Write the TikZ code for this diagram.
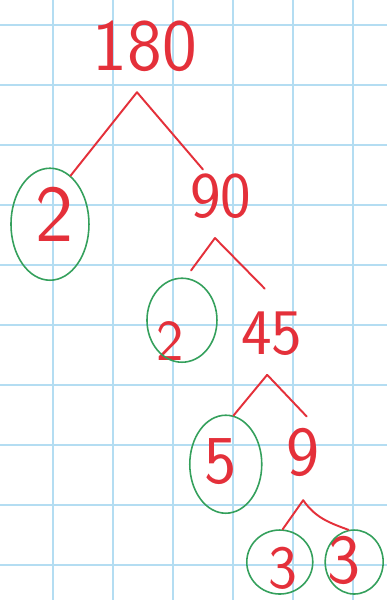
\documentclass[tikz,border=0pt]{standalone}
\usetikzlibrary{shapes.geometric}
\definecolor{gridblue}{RGB}{180,221,242}
\definecolor{penred}{RGB}{228,48,58}
\definecolor{ringgreen}{RGB}{52,160,92}
\tikzset{
  digit/.style={font=\sffamily\fontsize{#1}{#1}\selectfont, text=penred, inner sep=0pt},
  branch/.style={penred, line width=1.1pt, line cap=round},
  ring/.style={ellipse, draw=ringgreen, line width=0.9pt, inner sep=0pt},
}
\begin{document}
\begin{tikzpicture}[x=1.2cm, y=1.2cm]
  \fill[white] (-0.883,0.417) rectangle (5.567,-9.583);
  \useasboundingbox (-0.883,0.417) rectangle (5.567,-9.583);
  % graph paper
  \draw[gridblue, line width=1.5pt, step=1] (-0.883,0.417) grid (5.567,-9.583);
  % numbers of the tree
  \node[digit=42] (n180) at (1.53,-0.35) {180};
  \node[digit=46] (n2a) at (0.03,-3.15) {2};
  \node[digit=37] (n90) at (2.8,-2.85) {90};
  \node[digit=33] (n2b) at (1.95,-5.27) {2};
  \node[digit=37] (n45) at (3.65,-5.15) {45};
  \node[digit=39] (n5) at (2.8,-7.27) {5};
  \node[digit=40] (n9) at (4.17,-7.12) {9};
  \node[digit=35] (n3a) at (3.83,-9.05) {3};
  \node[digit=40] (n3b) at (4.85,-8.93) {3};
  % circled primes
  \node[ring, minimum width=1.56cm, minimum height=2.24cm] (r2a) at (-0.05,-3.32) {};
  \node[ring, minimum width=1.4cm, minimum height=1.68cm] (r2b) at (2.15,-4.92) {};
  \node[ring, minimum width=1.44cm, minimum height=1.96cm] (r5) at (2.88,-7.32) {};
  \node[ring, minimum width=1.32cm, minimum height=1.28cm] (r3a) at (3.78,-8.95) {};
  \node[ring, minimum width=1.16cm, minimum height=1.28cm] (r3b) at (5.02,-8.95) {};
  % forks
  \coordinate (f180) at (1.4,-1.12);
  \coordinate (f90) at (2.7,-3.55);
  \coordinate (f45) at (3.57,-5.83);
  \coordinate (f9) at (4.17,-7.92);
  % branches
  \draw[branch] (f180) -- (r2a.67);
  \draw[branch, shorten >=1mm] (f180) -- (n90.123);
  \draw[branch, shorten >=1.8mm] (f90) -- (r2b.85);
  \draw[branch, shorten >=6.5mm] (f90) -- (n45.55);
  \draw[branch] (f45) -- (r5.81);
  \draw[branch, shorten >=3.1mm] (f45) -- (n9.60);
  \draw[branch] (f9) -- (r3a.85);
  \draw[branch] (f9) to[out=-55, in=160] (r3b.100);
\end{tikzpicture}
\end{document}
